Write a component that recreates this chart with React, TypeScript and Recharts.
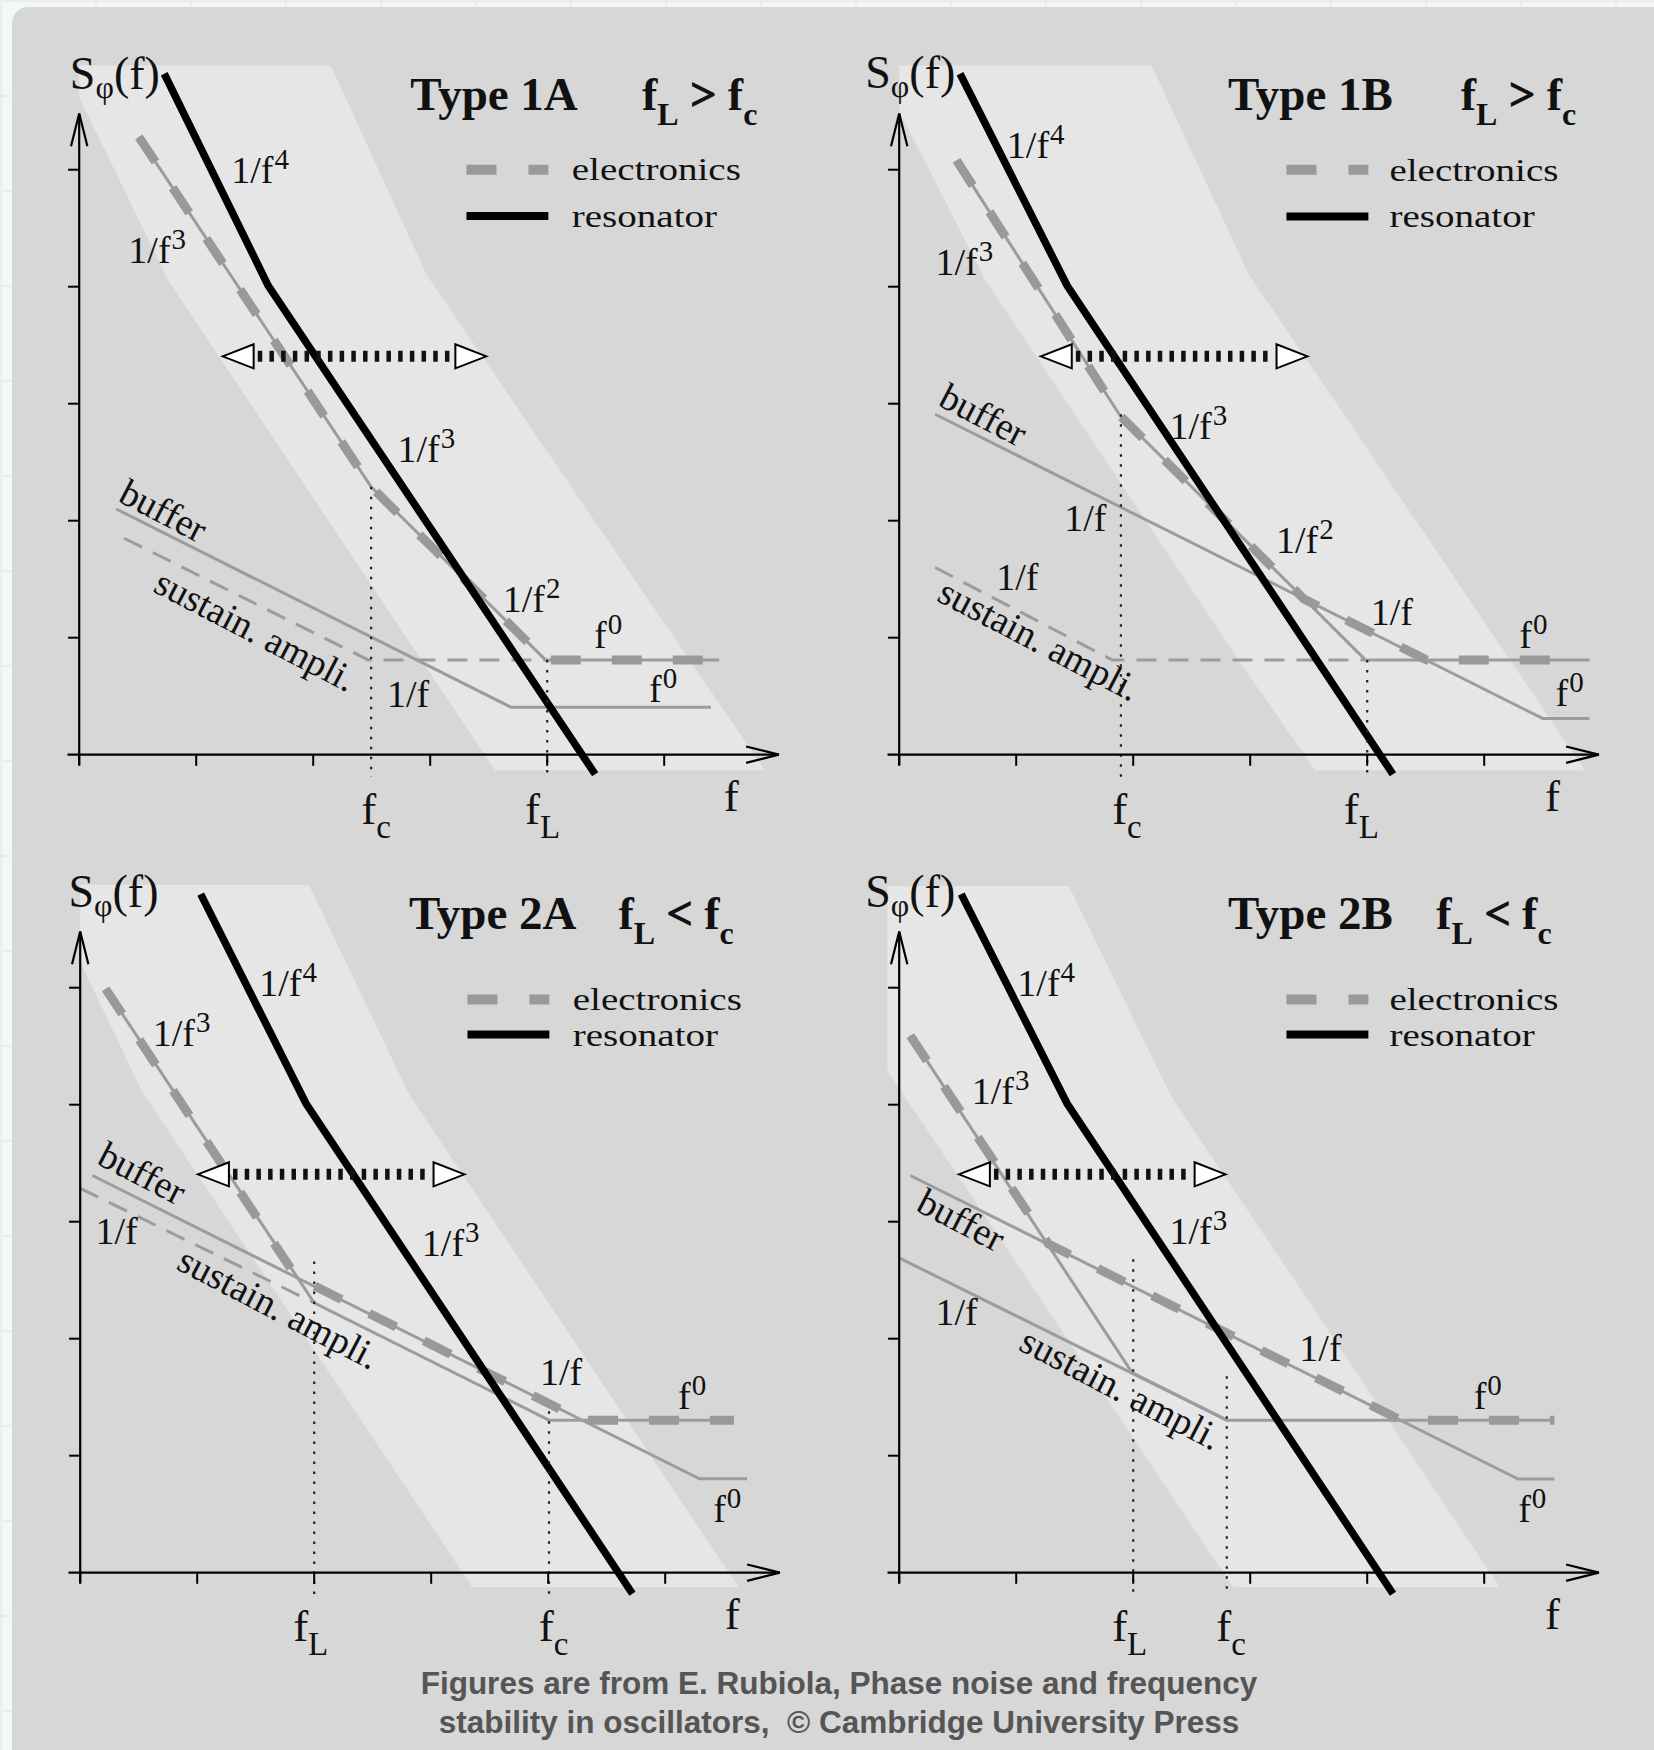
import React from "react";
import { ComposedChart, Area, Line, Scatter, XAxis, YAxis } from "recharts";

type Pt = { x: number; y: number };
type BandPt = { x: number; lo: number; hi: number };
type Lbl = { x: number; y: number; text: string; sup?: string; sub?: string };
type Marker = { x: number; top: number };

const SERIF = "'Liberation Serif', 'Times New Roman', Times, serif";
const SANS = "'Liberation Sans', Arial, Helvetica, sans-serif";

// one tick step = one data unit on both axes
const UNIT = 117;
const X_MIN = -0.6;
const X_MAX = 6.4;
const Y_MIN = -0.85;
const Y_MAX = 6.1;
const W = (X_MAX - X_MIN) * UNIT;
const H = (Y_MAX - Y_MIN) * UNIT;

const X_TICKS = [0, 1, 2, 3, 4, 5];
const Y_TICKS = [1, 2, 3, 4, 5];
const X_AXIS: Pt[] = [{ x: -0.1, y: 0 }, { x: 5.98, y: 0 }];
const Y_AXIS: Pt[] = [{ x: 0, y: -0.09 }, { x: 0, y: 5.48 }];
const X_HEAD: Pt[] = [{ x: 5.7, y: 0.07 }, { x: 5.98, y: 0 }, { x: 5.7, y: -0.07 }];
const Y_HEAD: Pt[] = [{ x: -0.07, y: 5.2 }, { x: 0, y: 5.48 }, { x: 0.07, y: 5.2 }];
const TICK_LEN = 0.095;
const DOT_BOTTOM = -0.19;
const ARROW_Y = 3.405;
const LEGEND_X = [3.31, 4.01];

const BAND = "#e6e6e6";
const LINE_GREY = "#9c9c9c";
const DASH_GREY = "#999999";

// ---------------- Type 1A ----------------
const band1A: BandPt[] = [
  { x: 0, lo: 5.62, hi: 5.89 },
  { x: 0.758, lo: 4.06, hi: 5.89 },
  { x: 2.15, lo: 1.97, hi: 5.89 },
  { x: 2.97, lo: 0.74, hi: 4.1 },
  { x: 3.556, lo: -0.134, hi: 3.24 },
  { x: 5.86, lo: -0.134, hi: -0.134 },
];
const resonator1A: Pt[] = [{ x: 0.727, y: 5.82 }, { x: 1.615, y: 4.01 }, { x: 4.41, y: -0.167 }];
const elecThin1A: Pt[] = [{ x: 0.51, y: 5.28 }, { x: 2.495, y: 2.29 }, { x: 3.985, y: 0.81 }, { x: 5.47, y: 0.81 }];
const elecThick1A: Pt[] = [{ x: 0.51, y: 5.28 }, { x: 2.495, y: 2.29 }, { x: 3.985, y: 0.81 }, { x: 5.47, y: 0.81 }];
const buffer1A: Pt[] = [{ x: 0.316, y: 2.1 }, { x: 3.69, y: 0.406 }, { x: 5.4, y: 0.406 }];
const sustain1A: Pt[] = [{ x: 0.384, y: 1.85 }, { x: 2.47, y: 0.81 }, { x: 4.0, y: 0.81 }];
const markers1A: Marker[] = [{ x: 2.495, top: 2.29 }, { x: 4.0, top: 0.81 }];
const arrow1A = [1.226, 3.48];
const labels1A: Lbl[] = [
  { x: 1.3, y: 4.89, text: "1/f", sup: "4" },
  { x: 0.42, y: 4.2, text: "1/f", sup: "3" },
  { x: 2.72, y: 2.5, text: "1/f", sup: "3" },
  { x: 3.62, y: 1.22, text: "1/f", sup: "2" },
  { x: 4.4, y: 0.91, text: "f", sup: "0" },
  { x: 4.87, y: 0.45, text: "f", sup: "0" },
  { x: 2.63, y: 0.41, text: "1/f" },
  { x: 0.32, y: 2.17, text: "buffer" },
  { x: 0.62, y: 1.4, text: "sustain. ampli." },
];
const axisLabels1A: Lbl[] = [
  { x: 2.41, y: -0.59, text: "f", sub: "c" },
  { x: 3.81, y: -0.59, text: "f", sub: "L" },
  { x: 5.51, y: -0.48, text: "f" },
];
const legend1A: Lbl[] = [{ x: 4.21, y: 4.91, text: "electronics" }, { x: 4.21, y: 4.51, text: "resonator" }];
const legendY1A = [5.0, 4.605];
const title1A: Lbl[] = [{ x: 2.83, y: 5.51, text: "Type 1A" }];
const relation1A: Lbl[] = [{ x: 4.81, y: 5.51, text: ">" }];
const sLabel1A: Lbl[] = [{ x: -0.08, y: 5.69, text: "S" }];

// ---------------- Type 1B ----------------
const band1B: BandPt[] = [
  { x: 0, lo: 5.5, hi: 5.89 },
  { x: 0.736, lo: 4.06, hi: 5.89 },
  { x: 2.157, lo: 1.93, hi: 5.89 },
  { x: 2.99, lo: 0.68, hi: 4.1 },
  { x: 3.556, lo: -0.134, hi: 3.27 },
  { x: 5.86, lo: -0.134, hi: -0.134 },
];
const resonator1B: Pt[] = [{ x: 0.52, y: 5.82 }, { x: 1.435, y: 4.01 }, { x: 4.22, y: -0.167 }];
const elecThin1B: Pt[] = [{ x: 0.49, y: 5.08 }, { x: 1.886, y: 2.9 }, { x: 3.985, y: 0.81 }, { x: 5.9, y: 0.81 }];
const elecThick1B: Pt[] = [{ x: 0.49, y: 5.08 }, { x: 1.886, y: 2.9 }, { x: 3.46, y: 1.33 }, { x: 4.51, y: 0.81 }, { x: 5.79, y: 0.81 }];
const buffer1B: Pt[] = [{ x: 0.307, y: 2.91 }, { x: 5.5, y: 0.31 }, { x: 5.9, y: 0.31 }];
const sustain1B: Pt[] = [{ x: 0.307, y: 1.6 }, { x: 1.82, y: 0.81 }, { x: 3.985, y: 0.81 }];
const markers1B: Marker[] = [{ x: 1.895, top: 2.91 }, { x: 4.0, top: 0.81 }];
const arrow1B = [1.21, 3.49];
const labels1B: Lbl[] = [
  { x: 0.92, y: 5.1, text: "1/f", sup: "4" },
  { x: 0.31, y: 4.1, text: "1/f", sup: "3" },
  { x: 2.31, y: 2.7, text: "1/f", sup: "3" },
  { x: 0.32, y: 2.99, text: "buffer" },
  { x: 1.41, y: 1.91, text: "1/f" },
  { x: 0.83, y: 1.41, text: "1/f" },
  { x: 0.31, y: 1.32, text: "sustain. ampli." },
  { x: 3.22, y: 1.72, text: "1/f", sup: "2" },
  { x: 4.03, y: 1.11, text: "1/f" },
  { x: 5.3, y: 0.91, text: "f", sup: "0" },
  { x: 5.61, y: 0.42, text: "f", sup: "0" },
];
const axisLabels1B: Lbl[] = [
  { x: 1.82, y: -0.59, text: "f", sub: "c" },
  { x: 3.8, y: -0.59, text: "f", sub: "L" },
  { x: 5.52, y: -0.48, text: "f" },
];
const legend1B: Lbl[] = [{ x: 4.19, y: 4.9, text: "electronics" }, { x: 4.19, y: 4.51, text: "resonator" }];
const legendY1B = [5.0, 4.6];
const title1B: Lbl[] = [{ x: 2.81, y: 5.51, text: "Type 1B" }];
const relation1B: Lbl[] = [{ x: 4.8, y: 5.51, text: ">" }];
const sLabel1B: Lbl[] = [{ x: -0.29, y: 5.7, text: "S" }];

// ---------------- Type 2A ----------------
const band2A: BandPt[] = [
  { x: 0, lo: 5.22, hi: 5.88 },
  { x: 0.53, lo: 4.11, hi: 5.88 },
  { x: 1.954, lo: 1.97, hi: 5.88 },
  { x: 2.81, lo: 0.69, hi: 4.09 },
  { x: 3.35, lo: -0.125, hi: 3.28 },
  { x: 5.63, lo: -0.125, hi: -0.125 },
];
const resonator2A: Pt[] = [{ x: 1.03, y: 5.8 }, { x: 1.93, y: 4.01 }, { x: 4.72, y: -0.18 }];
const elecThin2A: Pt[] = [{ x: 0.217, y: 4.99 }, { x: 2.0, y: 2.307 }, { x: 4.007, y: 1.304 }, { x: 5.587, y: 1.304 }];
const elecThick2A: Pt[] = [{ x: 0.217, y: 4.99 }, { x: 1.846, y: 2.53 }, { x: 4.287, y: 1.304 }, { x: 5.587, y: 1.304 }];
const buffer2A: Pt[] = [{ x: 0.104, y: 3.395 }, { x: 5.293, y: 0.802 }, { x: 5.7, y: 0.802 }];
const sustain2A: Pt[] = [{ x: 0, y: 3.285 }, { x: 2.0, y: 2.307 }];
const markers2A: Marker[] = [{ x: 2.0, top: 2.66 }, { x: 4.007, top: 1.38 }];
const arrow2A = [1.006, 3.285];
const labels2A: Lbl[] = [
  { x: 1.53, y: 4.93, text: "1/f", sup: "4" },
  { x: 0.62, y: 4.5, text: "1/f", sup: "3" },
  { x: 0.13, y: 3.5, text: "buffer" },
  { x: 0.13, y: 2.81, text: "1/f" },
  { x: 0.81, y: 2.6, text: "sustain. ampli." },
  { x: 2.92, y: 2.71, text: "1/f", sup: "3" },
  { x: 3.93, y: 1.6, text: "1/f" },
  { x: 5.11, y: 1.4, text: "f", sup: "0" },
  { x: 5.41, y: 0.43, text: "f", sup: "0" },
];
const axisLabels2A: Lbl[] = [
  { x: 1.82, y: -0.58, text: "f", sub: "L" },
  { x: 3.92, y: -0.58, text: "f", sub: "c" },
  { x: 5.51, y: -0.48, text: "f" },
];
const legend2A: Lbl[] = [{ x: 4.21, y: 4.81, text: "electronics" }, { x: 4.21, y: 4.5, text: "resonator" }];
const legendY2A = [4.9, 4.6];
const title2A: Lbl[] = [{ x: 2.81, y: 5.5, text: "Type 2A" }];
const relation2A: Lbl[] = [{ x: 4.6, y: 5.5, text: "<" }];
const sLabel2A: Lbl[] = [{ x: -0.1, y: 5.69, text: "S" }];

// ---------------- Type 2B ----------------
const band2B: BandPt[] = [
  { x: -0.1, lo: 4.29, hi: 5.87 },
  { x: 1.449, lo: 1.98, hi: 5.87 },
  { x: 2.315, lo: 0.68, hi: 4.09 },
  { x: 2.856, lo: -0.125, hi: 3.28 },
  { x: 5.135, lo: -0.125, hi: -0.125 },
];
const resonator2B: Pt[] = [{ x: 0.53, y: 5.8 }, { x: 1.435, y: 4.01 }, { x: 4.22, y: -0.18 }];
const elecThin2B: Pt[] = [{ x: 0.095, y: 4.59 }, { x: 1.99, y: 1.71 }, { x: 2.8, y: 1.304 }, { x: 5.6, y: 1.304 }];
const elecThick2B: Pt[] = [{ x: 0.095, y: 4.59 }, { x: 1.277, y: 2.81 }, { x: 4.287, y: 1.304 }, { x: 5.6, y: 1.304 }];
const buffer2B: Pt[] = [{ x: 0.095, y: 3.395 }, { x: 5.29, y: 0.8 }, { x: 5.6, y: 0.8 }];
const sustain2B: Pt[] = [{ x: 0, y: 2.69 }, { x: 2.8, y: 1.304 }];
const markers2B: Marker[] = [{ x: 2.0, top: 2.68 }, { x: 2.8, top: 1.68 }];
const arrow2B = [0.51, 2.79];
const labels2B: Lbl[] = [
  { x: 1.01, y: 4.93, text: "1/f", sup: "4" },
  { x: 0.62, y: 4.01, text: "1/f", sup: "3" },
  { x: 0.13, y: 3.1, text: "buffer" },
  { x: 2.31, y: 2.81, text: "1/f", sup: "3" },
  { x: 0.31, y: 2.12, text: "1/f" },
  { x: 1.01, y: 1.91, text: "sustain. ampli." },
  { x: 3.42, y: 1.81, text: "1/f" },
  { x: 4.91, y: 1.4, text: "f", sup: "0" },
  { x: 5.29, y: 0.43, text: "f", sup: "0" },
];
const axisLabels2B: Lbl[] = [
  { x: 1.82, y: -0.58, text: "f", sub: "L" },
  { x: 2.71, y: -0.58, text: "f", sub: "c" },
  { x: 5.52, y: -0.48, text: "f" },
];
const legend2B: Lbl[] = [{ x: 4.19, y: 4.81, text: "electronics" }, { x: 4.19, y: 4.5, text: "resonator" }];
const legendY2B = [4.9, 4.6];
const title2B: Lbl[] = [{ x: 2.81, y: 5.5, text: "Type 2B" }];
const relation2B: Lbl[] = [{ x: 4.59, y: 5.5, text: "<" }];
const sLabel2B: Lbl[] = [{ x: -0.29, y: 5.69, text: "S" }];

type PanelData = {
  band: BandPt[];
  resonator: Pt[];
  elecThin: Pt[];
  elecThick: Pt[];
  buffer: Pt[];
  sustain: Pt[];
  sustainDashed: boolean;
  markers: Marker[];
  arrow: number[];
  labels: Lbl[];
  axisLabels: Lbl[];
  legend: Lbl[];
  legendY: number[];
  title: Lbl[];
  relation: Lbl[];
  sLabel: Lbl[];
  left: number;
  top: number;
};

const PANELS: PanelData[] = [
  {
    band: band1A, resonator: resonator1A, elecThin: elecThin1A, elecThick: elecThick1A, buffer: buffer1A,
    sustain: sustain1A, sustainDashed: true, markers: markers1A, arrow: arrow1A, labels: labels1A,
    axisLabels: axisLabels1A, legend: legend1A, legendY: legendY1A, title: title1A, relation: relation1A,
    sLabel: sLabel1A, left: 9, top: 40.8,
  },
  {
    band: band1B, resonator: resonator1B, elecThin: elecThin1B, elecThick: elecThick1B, buffer: buffer1B,
    sustain: sustain1B, sustainDashed: true, markers: markers1B, arrow: arrow1B, labels: labels1B,
    axisLabels: axisLabels1B, legend: legend1B, legendY: legendY1B, title: title1B, relation: relation1B,
    sLabel: sLabel1B, left: 829.1, top: 40.8,
  },
  {
    band: band2A, resonator: resonator2A, elecThin: elecThin2A, elecThick: elecThick2A, buffer: buffer2A,
    sustain: sustain2A, sustainDashed: true, markers: markers2A, arrow: arrow2A, labels: labels2A,
    axisLabels: axisLabels2A, legend: legend2A, legendY: legendY2A, title: title2A, relation: relation2A,
    sLabel: sLabel2A, left: 10, top: 858.7,
  },
  {
    band: band2B, resonator: resonator2B, elecThin: elecThin2B, elecThick: elecThick2B, buffer: buffer2B,
    sustain: sustain2B, sustainDashed: false, markers: markers2B, arrow: arrow2B, labels: labels2B,
    axisLabels: axisLabels2B, legend: legend2B, legendY: legendY2B, title: title2B, relation: relation2B,
    sLabel: sLabel2B, left: 829.1, top: 858.7,
  },
];

const ROTATED = new Set(["buffer", "sustain. ampli."]);

const seg = (key: string, data: Pt[], stroke: string, width: number, dash?: string) => (
  <Line
    key={key}
    data={data}
    dataKey="y"
    type="linear"
    stroke={stroke}
    strokeWidth={width}
    strokeDasharray={dash}
    strokeLinecap="butt"
    dot={false}
    activeDot={false}
    isAnimationActive={false}
  />
);

const RegularLabel = (props: any) => {
  const { cx, cy, payload } = props;
  const rot = ROTATED.has(payload.text) ? 27.5 : 0;
  return (
    <g transform={`translate(${cx},${cy}) rotate(${rot})`}>
      <text x={0} y={0} fontFamily={SERIF} fontSize={38} fill="#111">
        {payload.text}
        {payload.sup ? (
          <tspan dx={1} dy={-14} fontSize={29}>
            {payload.sup}
          </tspan>
        ) : null}
      </text>
    </g>
  );
};

const LegendLabel = (props: any) => {
  const { cx, cy, payload } = props;
  return (
    <g transform={`translate(${cx},${cy}) scale(1.22,1)`}>
      <text x={0} y={0} fontFamily={SERIF} fontSize={32} fill="#111">
        {payload.text}
      </text>
    </g>
  );
};

const AxisLabel = (props: any) => {
  const { cx, cy, payload } = props;
  return (
    <text x={cx} y={cy} fontFamily={SERIF} fontSize={45} fill="#111">
      {payload.text}
      {payload.sub ? (
        <tspan dy={14} fontSize={33}>
          {payload.sub}
        </tspan>
      ) : null}
    </text>
  );
};

const TitleLabel = (props: any) => {
  const { cx, cy, payload } = props;
  return (
    <text x={cx} y={cy} fontFamily={SERIF} fontWeight="bold" fontSize={47} fill="#111">
      {payload.text}
    </text>
  );
};

const RelationLabel = (props: any) => {
  const { cx, cy, payload } = props;
  return (
    <text x={cx} y={cy} fontFamily={SERIF} fontWeight="bold" fontSize={46} fill="#111">
      f
      <tspan dy={15} fontSize={32}>L</tspan>
      <tspan dy={-15} stroke="#111" strokeWidth={1}>{` ${payload.text} `}</tspan>
      <tspan>f</tspan>
      <tspan dy={15} fontSize={32}>c</tspan>
    </text>
  );
};

const SpectrumLabel = (props: any) => {
  const { cx, cy } = props;
  return (
    <text x={cx} y={cy} fontFamily={SERIF} fontSize={46} fill="#111">
      S
      <tspan dy={9} fontSize={32}>φ</tspan>
      <tspan dy={-9}>(f)</tspan>
    </text>
  );
};

const ArrowHead = (props: any) => {
  const { cx, cy, payload } = props;
  const d = payload.dir;
  const bx = cx - d * 31;
  return (
    <polygon
      points={`${cx},${cy} ${bx},${cy - 12} ${bx},${cy + 12}`}
      fill="#fff"
      stroke="#000"
      strokeWidth={2}
    />
  );
};

function Panel({ d }: { d: PanelData }) {
  const bandRows = d.band.map((b) => ({ x: b.x, range: [b.lo, b.hi] }));
  const heads = [
    { x: d.arrow[0], y: ARROW_Y, dir: -1 },
    { x: d.arrow[1], y: ARROW_Y, dir: 1 },
  ];
  const body: Pt[] = [
    { x: d.arrow[0] + 0.3, y: ARROW_Y },
    { x: d.arrow[1] - 0.28, y: ARROW_Y },
  ];
  return (
    <ComposedChart width={W} height={H} data={bandRows} margin={{ top: 0, right: 0, bottom: 0, left: 0 }}>
      <XAxis type="number" dataKey="x" domain={[X_MIN, X_MAX]} hide height={0} />
      <YAxis type="number" domain={[Y_MIN, Y_MAX]} hide width={0} />
      <Area
        type="linear"
        dataKey="range"
        stroke="none"
        fill={BAND}
        fillOpacity={1}
        dot={false}
        activeDot={false}
        isAnimationActive={false}
      />
      {seg("buf", d.buffer, LINE_GREY, 3)}
      {seg("sus", d.sustain, LINE_GREY, 3, d.sustainDashed ? "20 12" : undefined)}
      {seg("elt", d.elecThin, LINE_GREY, 3)}
      {seg("elk", d.elecThick, DASH_GREY, 9, "30 31")}
      {seg("res", d.resonator, "#000", 7.5)}
      {d.markers.map((m, i) =>
        seg(`mk${i}`, [{ x: m.x, y: m.top }, { x: m.x, y: DOT_BOTTOM }], "#222", 2.2, "2.5 7.5")
      )}
      {seg("xax", X_AXIS, "#000", 2.2)}
      {seg("yax", Y_AXIS, "#000", 2.2)}
      {seg("xhd", X_HEAD, "#000", 2.2)}
      {seg("yhd", Y_HEAD, "#000", 2.2)}
      {X_TICKS.map((t) => seg(`xt${t}`, [{ x: t, y: 0 }, { x: t, y: -TICK_LEN }], "#000", 2))}
      {Y_TICKS.map((t) => seg(`yt${t}`, [{ x: -TICK_LEN, y: t }, { x: 0, y: t }], "#000", 2))}
      {seg("lge", [{ x: LEGEND_X[0], y: d.legendY[0] }, { x: LEGEND_X[1], y: d.legendY[0] }], DASH_GREY, 10, "30 32")}
      {seg("lgr", [{ x: LEGEND_X[0], y: d.legendY[1] }, { x: LEGEND_X[1], y: d.legendY[1] }], "#000", 8)}
      {seg("arb", body, "#111", 11, "4.5 7.2")}
      <Scatter data={heads} dataKey="y" shape={ArrowHead} isAnimationActive={false} />
      <Scatter data={d.labels} dataKey="y" shape={RegularLabel} isAnimationActive={false} />
      <Scatter data={d.legend} dataKey="y" shape={LegendLabel} isAnimationActive={false} />
      <Scatter data={d.axisLabels} dataKey="y" shape={AxisLabel} isAnimationActive={false} />
      <Scatter data={d.title} dataKey="y" shape={TitleLabel} isAnimationActive={false} />
      <Scatter data={d.relation} dataKey="y" shape={RelationLabel} isAnimationActive={false} />
      <Scatter data={d.sLabel} dataKey="y" shape={SpectrumLabel} isAnimationActive={false} />
    </ComposedChart>
  );
}

export default function App() {
  return (
    <div
      style={{
        position: "absolute",
        left: 0,
        top: 0,
        width: 1654,
        height: 1750,
        overflow: "hidden",
        backgroundColor: "#f3f7f8",
        backgroundImage:
          "linear-gradient(#e6eef0 2px, transparent 2px), linear-gradient(90deg, #e6eef0 2px, transparent 2px)",
        backgroundSize: "95px 95px",
      }}
    >
      <div
        style={{
          position: "absolute",
          left: 12,
          top: 7,
          width: 1642,
          height: 1743,
          background: "#d7d7d7",
          borderTopLeftRadius: 16,
        }}
      />
      {PANELS.map((p, i) => (
        <div key={i} style={{ position: "absolute", left: p.left, top: p.top, width: W, height: H }}>
          <Panel d={p} />
        </div>
      ))}
      <div
        style={{
          position: "absolute",
          left: 239,
          top: 1664,
          width: 1200,
          textAlign: "center",
          fontFamily: SANS,
          fontWeight: "bold",
          fontSize: 31.5,
          lineHeight: "39px",
          color: "#555555",
        }}
      >
        Figures are from E. Rubiola, Phase noise and frequency
        <br />
        stability in oscillators,&nbsp; © Cambridge University Press
      </div>
    </div>
  );
}
